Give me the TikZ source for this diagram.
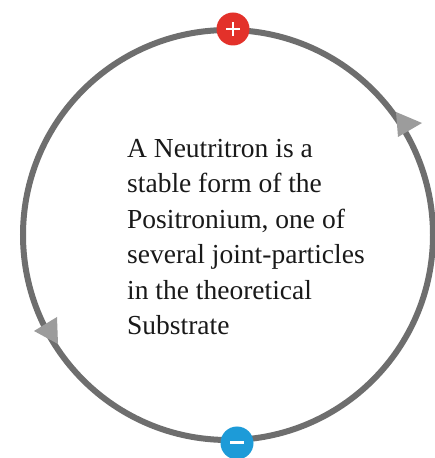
\documentclass[tikz,border=0pt]{standalone}
\usepackage{fontspec}
\setmainfont{Liberation Serif}
\usetikzlibrary{positioning}
\definecolor{ring}{HTML}{6E6E6E}
\definecolor{tip}{HTML}{9C9C9C}
\definecolor{pluscol}{HTML}{E3312A}
\definecolor{minuscol}{HTML}{1D9BD8}
\begin{document}
\begin{tikzpicture}[x=1pt,y=1pt]
        \useasboundingbox (0,0) rectangle (434,458);
        \fill[white] (0,0) rectangle (434,458);
        \draw[ring,line width=6pt] (228,223) circle[radius=205];
        % arrow heads on the ring
        \fill[tip] (396,346) -- (422,335) -- (398,321) -- cycle;
        \fill[tip] (57,141) -- (34,127) -- (58,114) -- cycle;
        % charges
        \fill[pluscol] (233,429) circle[radius=16.5];
        \draw[white,line width=2.6pt] (226,429) -- (240,429) (233,422) -- (233,436);
        \fill[minuscol] (237,15) circle[radius=16.5];
        \draw[white,line width=3pt] (230,15) -- (244,15);
        \node[anchor=north west,inner sep=0pt,align=left,font=\fontsize{27.5}{35.5}\selectfont,text=black!90] (blurb) at (127,319)
          {A Neutritron is a\\stable form of the\\Positronium, one of\\several joint-particles\\in the theoretical\\Substrate};
      \end{tikzpicture}
\end{document}
